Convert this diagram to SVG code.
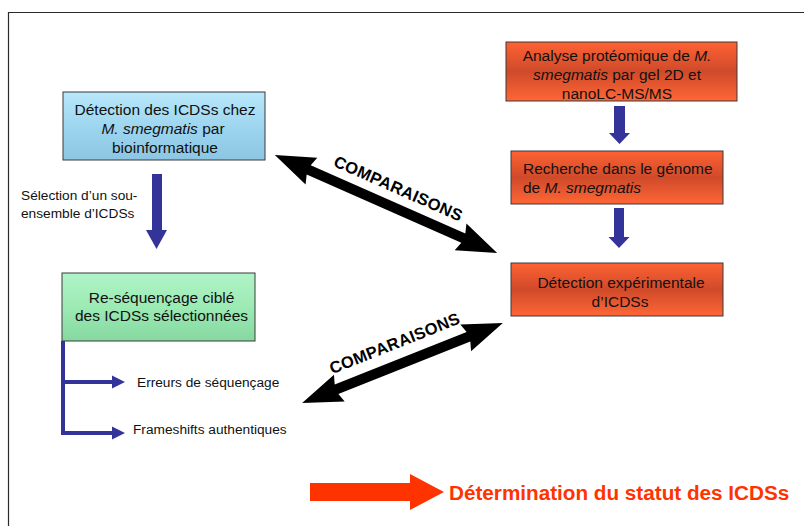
<svg xmlns="http://www.w3.org/2000/svg" width="804" height="526" viewBox="0 0 804 526">
  <defs>
    <linearGradient id="gBlue" x1="0" y1="0" x2="0" y2="1">
      <stop offset="0" stop-color="#b8e8fa"/>
      <stop offset="0.5" stop-color="#9ed6f0"/>
      <stop offset="1" stop-color="#8cc6e2"/>
    </linearGradient>
    <linearGradient id="gGreen" x1="0" y1="0" x2="0" y2="1">
      <stop offset="0" stop-color="#b0f4c8"/>
      <stop offset="0.5" stop-color="#9ceab4"/>
      <stop offset="1" stop-color="#86d8a0"/>
    </linearGradient>
    <linearGradient id="gOrange" x1="0" y1="0" x2="0" y2="1">
      <stop offset="0" stop-color="#ff6233"/>
      <stop offset="0.5" stop-color="#cf4a2a"/>
      <stop offset="1" stop-color="#ff6636"/>
    </linearGradient>
    <style>
      .box { stroke: #3a3a3a; stroke-width: 1; }
      .t { font-family: "Liberation Sans", Arial, sans-serif; font-size: 15.5px; fill: #111; }
      .c { text-anchor: middle; }
      .s { font-family: "Liberation Sans", Arial, sans-serif; font-size: 13.7px; fill: #111; }
      .cmp { font-family: "Liberation Sans", Arial, sans-serif; font-size: 16.5px; font-weight: bold; fill: #000; text-anchor: middle; letter-spacing: 0.3px; }
      .blue { fill: #333399; }
    </style>
  </defs>

  <rect width="804" height="526" fill="#ffffff"/>
  <!-- outer frame (open at right and bottom) -->
  <path d="M8.5 526 V12.5 H804" fill="none" stroke="#2a2a2a" stroke-width="1.2"/>

  <g id="node-bioinfo">
    <rect class="box" x="63" y="92" width="202" height="68" fill="url(#gBlue)"/>
    <text class="t c" x="165" y="115">Détection des ICDSs chez</text>
    <text class="t c" x="163" y="134"><tspan font-style="italic">M. smegmatis</tspan> par</text>
    <text class="t c" x="165" y="153">bioinformatique</text>
  </g>

  <g id="node-proteomique">
    <rect class="box" x="506" y="42" width="231" height="59" fill="url(#gOrange)"/>
    <text class="t c" x="617" y="61">Analyse protéomique de <tspan font-style="italic">M.</tspan></text>
    <text class="t c" x="617" y="80"><tspan font-style="italic">smegmatis</tspan> par gel 2D et</text>
    <text class="t c" x="617" y="99">nanoLC-MS/MS</text>
  </g>

  <g id="node-recherche">
    <rect class="box" x="511" y="151" width="212" height="53" fill="url(#gOrange)"/>
    <text class="t" x="523" y="173.5">Recherche dans le génome</text>
    <text class="t" x="523" y="193">de <tspan font-style="italic">M. smegmatis</tspan></text>
  </g>

  <g id="node-detection-exp">
    <rect class="box" x="511" y="263" width="212" height="53" fill="url(#gOrange)"/>
    <text class="t c" x="621" y="287.5">Détection expérimentale</text>
    <text class="t c" x="620" y="307">d’ICDSs</text>
  </g>

  <g id="node-resequencage">
    <rect class="box" x="62" y="273" width="193" height="68" fill="url(#gGreen)"/>
    <text class="t c" x="161.5" y="302.5">Re-séquençage ciblé</text>
    <text class="t c" x="161.5" y="321">des ICDSs sélectionnées</text>
  </g>

  <g id="node-erreurs">
    <text class="s" x="137" y="386.5">Erreurs de séquençage</text>
  </g>

  <g id="node-frameshifts">
    <text class="s" x="133" y="434">Frameshifts authentiques</text>
  </g>

  <g id="node-statut">
    <text x="449" y="499.5" font-family="'Liberation Sans', Arial, sans-serif" font-size="20.7px" font-weight="bold" fill="#ff3300">Détermination du statut des ICDSs</text>
  </g>

  <g id="connectors">
    <!-- proteomics -> genome search -->
    <polygon class="blue" points="614,106 625,106 625,133 630,133 619.5,144 609,133 614,133"/>
    <!-- genome search -> experimental detection -->
    <polygon class="blue" points="614,208 624,208 624,237 629.5,237 619,248 608.5,237 614,237"/>
    <!-- bioinformatics -> re-sequencing -->
    <polygon class="blue" points="152,174 162,174 162,230 167,230 156.5,249 146,230 152,230"/>
    <text class="s" x="21" y="199.5">Sélection d’un sou-</text>
    <text class="s" x="21" y="218">ensemble d’ICDSs</text>

    <!-- re-sequencing outcomes bracket -->
    <rect class="blue" x="61" y="341" width="4" height="94"/>
    <polygon class="blue" points="61,380 112,380 112,375.5 125,382 112,388.5 112,384 61,384"/>
    <polygon class="blue" points="61,431 112,431 112,426.5 125,433 112,439.5 112,435 61,435"/>

    <!-- comparison: bioinformatics <-> experimental detection -->
    <g transform="translate(386 204) rotate(23.8)">
      <polygon fill="#000" points="-121.5,0 -81.5,-14.5 -84.5,-5 84.5,-5 81.5,-14.5 121.5,0 81.5,14.5 84.5,5 -84.5,5 -81.5,14.5"/>
      <text class="cmp" x="5" y="-13.5">COMPARAISONS</text>
    </g>

    <!-- comparison: re-sequencing <-> experimental detection -->
    <g transform="translate(402.5 363) rotate(-21.7)">
      <polygon fill="#000" points="-108,0 -68,-14.5 -71,-5 71,-5 68,-14.5 108,0 68,14.5 71,5 -71,5 -68,14.5"/>
      <text class="cmp" x="0" y="-15.5">COMPARAISONS</text>
    </g>

    <!-- outcome arrow -->
    <polygon fill="#ff3300" points="310,483 410,483 410,474 444,492 410,510 410,501 310,501"/>
  </g>
</svg>
